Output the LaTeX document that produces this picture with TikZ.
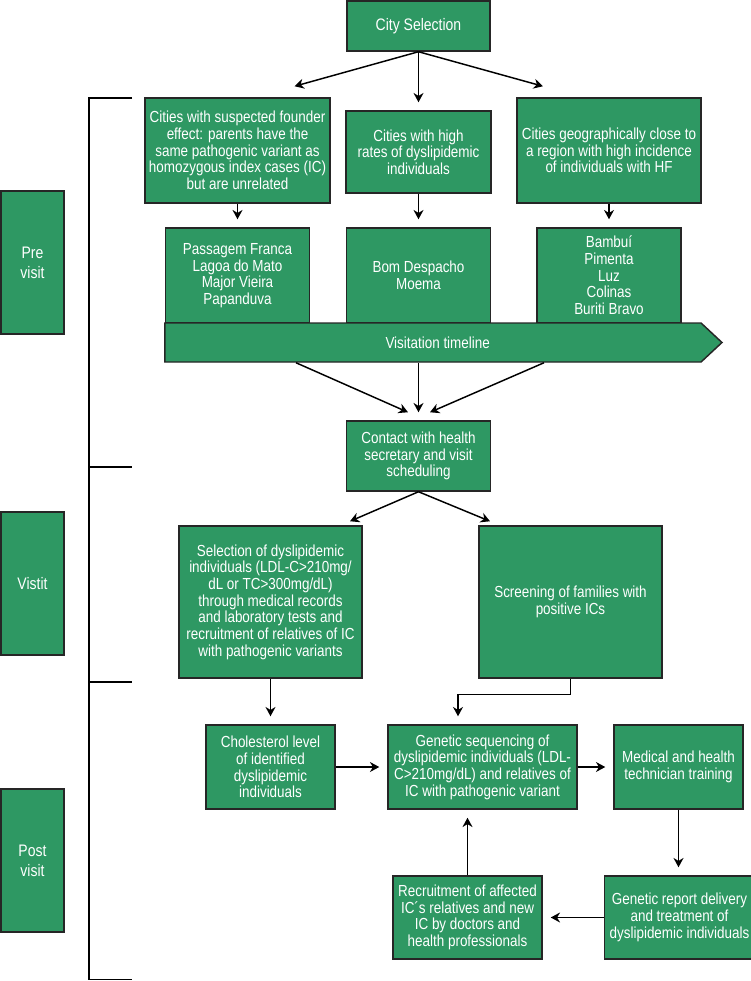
\documentclass[tikz,border=0pt]{standalone}
\usepackage{fontspec}
\setmainfont[FakeStretch=0.84]{Liberation Sans}
\usetikzlibrary{arrows.meta,shapes.symbols}
\definecolor{boxgreen}{RGB}{46,152,99}
\tikzset{
  box/.style={draw=black!85,line width=1.1pt,fill=boxgreen,text=white,align=center,inner sep=1pt,font=\fontsize{12}{12.5}\selectfont},
  phase/.style={box,minimum width=47.25pt,minimum height=107.25pt,font=\fontsize{12.5}{15}\selectfont},
  arr/.style={line width=1.1pt,-{Stealth[length=7pt,width=7.5pt]}},
  gap/.style={arr,shorten >=6pt},
  bracket/.style={line width=1.1pt}
}
\begin{document}
\begin{tikzpicture}[x=0.75pt,y=-0.75pt]
\useasboundingbox (0,0) rectangle (750,981);

\node[box,minimum width=107.25pt,minimum height=37.5pt,font=\fontsize{12.5}{12.5}\selectfont] (city) at (418.5,26) {City Selection};

\node[box,minimum width=138.75pt,minimum height=78.75pt] (founder) at (237.5,150.5) {Cities with suspected founder\\effect: parents have the\\same pathogenic variant as\\homozygous index cases (IC)\\but are unrelated};
\node[box,minimum width=108.75pt,minimum height=61.5pt] (highrate) at (418.5,152) {Cities with high\\rates of dyslipidemic\\individuals};
\node[box,minimum width=138pt,minimum height=78.75pt] (geo) at (609,150.5) {Cities geographically close to\\a region with high incidence\\of individuals with HF};

\node[box,minimum width=108pt,minimum height=71.25pt] (citiesA) at (237.5,275.5) {Passagem Franca\\Lagoa do Mato\\Major Vieira\\Papanduva};
\node[box,minimum width=108pt,minimum height=71.25pt] (citiesB) at (418.5,275.5) {Bom Despacho\\Moema};
\node[box,minimum width=108pt,minimum height=71.25pt] (citiesC) at (609,275.5) {Bambuí\\Pimenta\\Luz\\Colinas\\Buriti Bravo};

\node[box,signal,signal to=east,signal pointer angle=86,minimum width=417.75pt,minimum height=29.25pt,inner sep=0pt] (timeline) at (433,342.5) {\hspace*{7pt}Visitation timeline};

\node[box,minimum width=108pt,minimum height=52.5pt] (contact) at (418.5,456) {Contact with health\\secretary and visit\\scheduling};

\node[box,minimum width=137.25pt,minimum height=114pt] (selection) at (270.5,602) {Selection of dyslipidemic\\individuals (LDL-C>210mg/\\dL or TC>300mg/dL)\\through medical records\\and laboratory tests and\\recruitment of relatives of IC\\with pathogenic variants};
\node[box,minimum width=137.25pt,minimum height=114pt] (screening) at (570.5,602) {Screening of families with\\positive ICs};

\node[box,minimum width=96.75pt,minimum height=63pt] (cholesterol) at (270.5,767) {Cholesterol level\\of identified\\dyslipidemic\\individuals};
\node[box,minimum width=141.75pt,minimum height=63pt] (gen) at (482.5,767) {Genetic sequencing of\\dyslipidemic individuals (LDL-\\C>210mg/dL) and relatives of\\IC with pathogenic variant};
\node[box,minimum width=96.75pt,minimum height=63pt] (medical) at (678.5,767) {Medical and health\\technician training};
\node[box,minimum width=112.5pt,minimum height=62.25pt] (report) at (679.5,917.5) {Genetic report delivery\\and treatment of\\dyslipidemic individuals};
\node[box,minimum width=111.75pt,minimum height=62.25pt] (recruit) at (467.5,917.5) {Recruitment of affected\\IC´s relatives and new\\IC by doctors and\\health professionals};

\node[phase] (pre) at (32.5,262.5) {Pre\\visit};
\node[phase] (visit) at (32.5,583.5) {Vistit};
\node[phase] (post) at (32.5,860.5) {Post\\visit};

% bracket
\draw[bracket] (132,98) -- (89,98) -- (89,979.5) -- (132,979.5);
\draw[bracket] (89,467) -- (132,467);
\draw[bracket] (89,682) -- (132,682);

\draw[arr] (city.south) -- ([shift={(57,-11)}]founder.north);
\draw[gap] (city.south) -- (highrate.north);
\draw[arr] (city.south) -- ([shift={(-66,-11)}]geo.north);

\draw[gap] (founder.south) -- (citiesA.north);
\draw[gap] (highrate.south) -- (citiesB.north);
\draw[gap] (geo.south) -- (citiesC.north);

\draw[arr] ([shift={(-137,0)}]timeline.south) -- ([shift={(-10.5,-8)}]contact.north);
\draw[gap] (timeline.south -| contact.north) -- (contact.north);
\draw[arr] ([shift={(111,0)}]timeline.south) -- ([shift={(11.5,-8)}]contact.north);

\draw[arr] (contact.south) -- ([shift={(79.5,-4)}]selection.north);
\draw[arr] (contact.south) -- ([shift={(-80.5,-4)}]screening.north);

\draw[gap] (selection.south) -- (cholesterol.north);
\draw[gap] (screening.south) -- ++(0,16) -| ([shift={(-24.5,0)}]gen.north);

\draw[gap] (cholesterol.east) -- (gen.west);
\draw[gap] (gen.east) -- (medical.west);
\draw[gap] (medical.south) -- (medical.south |- report.north);
\draw[gap] (report.west) -- (recruit.east);
\draw[gap] (recruit.north) -- (gen.south -| recruit.north);

\end{tikzpicture}
\end{document}
